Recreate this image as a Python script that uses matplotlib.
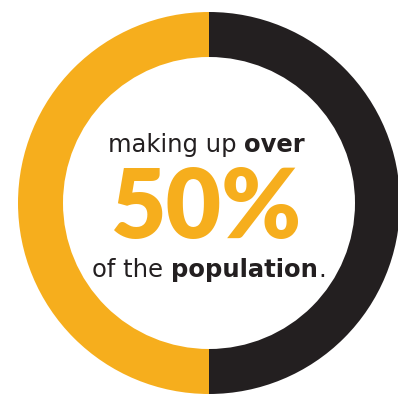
import matplotlib
matplotlib.use("Agg")
import matplotlib.pyplot as plt

# ---------------------------
# Data
# ---------------------------
shares = [50, 50]
colors = ["#F6AE1D", "#231F20"]
line1 = ["making up ", "over"]
big_label = "50%"
line3 = ["of the ", "population", "."]

W, H = 398, 397
cx, cy = 209, H - 203
R_out, ring = 191, 45
dark = "#231F20"

fig = plt.figure(figsize=(W / 100, H / 100), dpi=100)
ax = fig.add_axes([0, 0, 1, 1])
ax.pie(
    shares,
    colors=colors,
    startangle=90,
    counterclock=True,
    radius=R_out,
    center=(cx, cy),
    wedgeprops=dict(width=ring, linewidth=0),
)
ax.set_xlim(0, W)
ax.set_ylim(0, H)
ax.set_aspect("equal")
ax.axis("off")

renderer = fig.canvas.get_renderer()


def mixed_line(parts, weights, y, size, x_center):
    # draw pieces once, measure, then shift so the whole line is centred
    texts = []
    x = 0
    for p, w in zip(parts, weights):
        t = ax.text(x, y, p, fontsize=size, fontweight=w, color=dark,
                    family="DejaVu Sans", va="baseline", ha="left")
        bb = t.get_window_extent(renderer)
        x += bb.width
        texts.append((t, bb.width))
    x0 = x_center - x / 2
    for t, wd in texts:
        t.set_x(x0)
        x0 += wd


mixed_line(line1, ["normal", "bold"], H - 152, 17.5, 206.5)
ax.text(207, H - 238, big_label, fontsize=69, fontweight="heavy",
        color=colors[0], family="Lato", ha="center", va="baseline")
mixed_line(line3, ["normal", "bold", "normal"], H - 277, 17.5, 209)

fig.savefig("out.png", dpi=100)
